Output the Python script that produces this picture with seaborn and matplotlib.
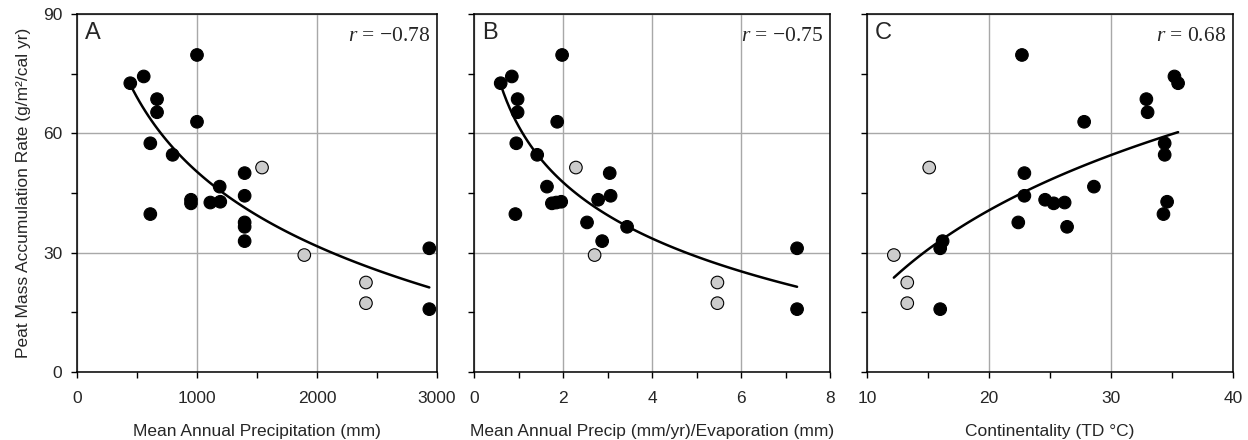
import matplotlib
matplotlib.use("Agg")
import matplotlib.pyplot as plt
from matplotlib.ticker import MultipleLocator
import numpy as np
import pandas as pd
import seaborn as sns

# ---- data ----
accum_rate = [79.7, 74.3, 72.6, 68.6, 65.3, 62.9, 57.5, 54.6, 51.4, 50.0, 46.6, 44.3,
              43.3, 42.4, 42.6, 42.8, 39.7, 37.6, 36.5, 32.9, 31.1, 29.4, 22.5, 17.3, 15.8]
precip_mm = [1000, 556, 444, 667, 667, 1000, 611, 797, 1542, 1397, 1189, 1397,
             950, 950, 1111, 1194, 611, 1397, 1397, 1397, 2936, 1894, 2408, 2408, 2936]
precip_evap = [1.98, 0.85, 0.60, 0.98, 0.98, 1.87, 0.95, 1.42, 2.29, 3.05, 1.64, 3.07,
               2.79, 1.75, 1.85, 1.96, 0.93, 2.54, 3.44, 2.88, 7.26, 2.71, 5.47, 5.47, 7.26]
continentality = [22.7, 35.2, 35.5, 32.9, 33.0, 27.8, 34.4, 34.4, 15.1, 22.9, 28.6, 22.9,
                  24.6, 25.3, 26.2, 34.6, 34.3, 22.4, 26.4, 16.2, 16.0, 12.2, 13.3, 13.3, 16.0]
site_group = ["black"] * 8 + ["gray"] + ["black"] * 12 + ["gray"] * 3 + ["black"]

panel_letters = ["A", "B", "C"]
r_labels = ["\u22120.78", "\u22120.75", "0.68"]
x_labels = ["Mean Annual Precipitation (mm)",
            "Mean Annual Precip (mm/yr)/Evaporation (mm)",
            "Continentality (TD \u00b0C)"]
y_label = "Peat Mass Accumulation Rate (g/m\u00b2/cal yr)"

df = pd.DataFrame({"rate": accum_rate, "precip": precip_mm, "pe": precip_evap,
                   "cont": continentality, "group": site_group})

sns.set_style("white")
plt.rcParams["font.family"] = ["Liberation Sans", "DejaVu Sans"]
plt.rcParams["mathtext.fontset"] = "custom"
plt.rcParams["mathtext.it"] = "Liberation Serif:italic"
plt.rcParams["mathtext.rm"] = "Liberation Serif"

fig = plt.figure(figsize=(12.48, 4.4), dpi=100)
W, H = 1248, 440
bottom = (H - 372) / H
height = 358 / H
boxes = [(77, 360), (474, 356), (867, 366)]
xcols = ["precip", "pe", "cont"]
xlims = [(0, 3000), (0, 8), (10, 40)]
xmaj = [1000, 2, 10]
xmin = [500, 1, 5]

for i in range(3):
    left, width = boxes[i]
    ax = fig.add_axes([left / W, bottom, width / W, height])
    ax.grid(True, which="major", color="#a8a8a8", linewidth=1.0, zorder=0)
    ax.set_axisbelow(True)
    sns.scatterplot(data=df, x=xcols[i], y="rate", hue="group",
                    palette={"black": "black", "gray": "#cccccc"},
                    edgecolor="black", linewidth=0.8, s=82, legend=False,
                    ax=ax, zorder=3)
    sns.regplot(data=df, x=xcols[i], y="rate", logx=True, ci=None, scatter=False,
                truncate=True, color="black", line_kws={"linewidth": 1.8, "zorder": 4},
                ax=ax)
    ax.set_xlim(*xlims[i])
    ax.set_ylim(0, 90)
    ax.xaxis.set_major_locator(MultipleLocator(xmaj[i]))
    ax.xaxis.set_minor_locator(MultipleLocator(xmin[i]))
    ax.yaxis.set_major_locator(MultipleLocator(30))
    ax.yaxis.set_minor_locator(MultipleLocator(15))
    ax.tick_params(which="both", direction="out", length=4.5, width=1.0,
                   color="black", labelsize=12.5, bottom=True, left=True,
                   top=False, right=False)
    ax.tick_params(axis="x", pad=9)
    ax.tick_params(axis="y", pad=6)
    for sp in ax.spines.values():
        sp.set_color("black")
        sp.set_linewidth(1.1)
    ax.set_xlabel(x_labels[i], fontsize=12.5, labelpad=13)
    if i == 0:
        ax.set_ylabel(y_label, fontsize=12.5, labelpad=9)
    else:
        ax.set_ylabel("")
        ax.set_yticklabels([])
    ax.text(0.022, 0.977, panel_letters[i], transform=ax.transAxes,
            fontsize=17, ha="left", va="top")
    ax.text(0.98, 0.965, r"$r$ = " + r_labels[i], transform=ax.transAxes,
            fontsize=15.5, ha="right", va="top", family="Liberation Serif")

fig.savefig("out.png", dpi=100)
